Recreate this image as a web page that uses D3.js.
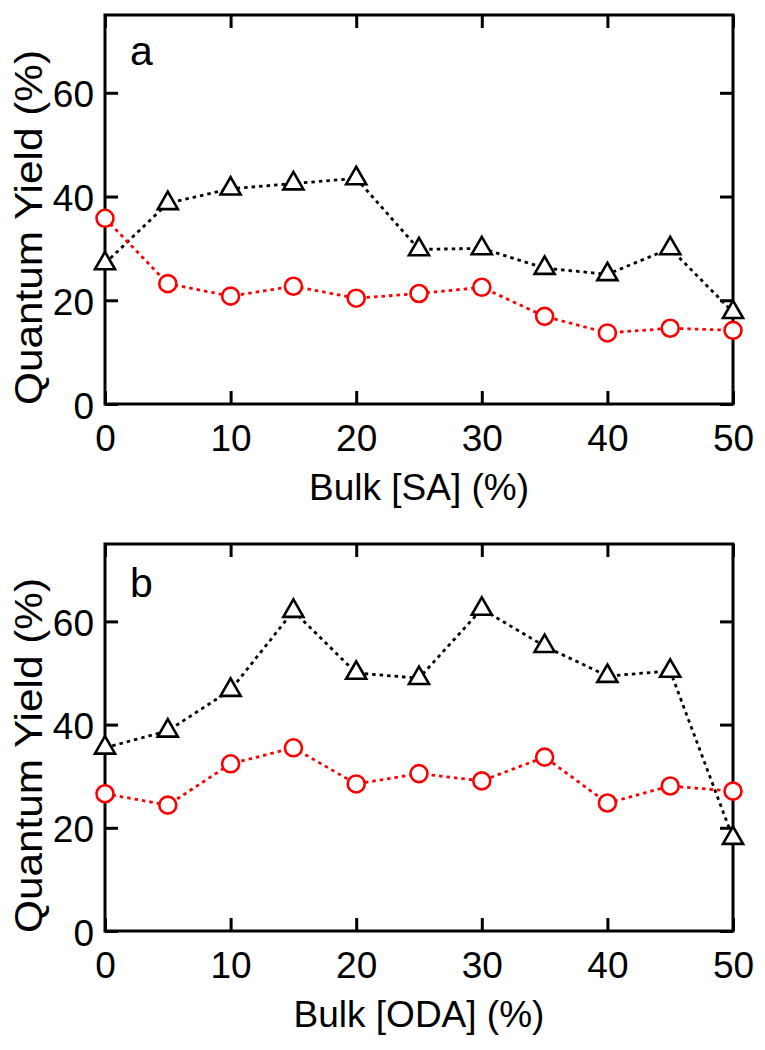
<!DOCTYPE html>
<html>
<head>
<meta charset="utf-8">
<script src="https://cdn.jsdelivr.net/npm/d3@7"></script>
<style>
  body { margin: 0; background: #fff; }
  text { font-family: "Liberation Sans", Arial, Helvetica, sans-serif; fill: #000; }
</style>
</head>
<body>
<div id="chart"></div>
<script>
// data
let bulkPct = [0, 5, 10, 15, 20, 25, 30, 35, 40, 45, 50];

// panel a, SA
let saTriangle = [27.1, 38.7, 41.5, 42.5, 43.5, 29.8, 30.0, 26.2, 25.0, 30.0, 17.7];
let saCircle = [35.8, 23.2, 20.8, 22.7, 20.4, 21.3, 22.5, 16.9, 13.7, 14.6, 14.2];

// panel b, ODA
let odaTriangle = [35.5, 38.8, 46.7, 62.0, 50.0, 49.0, 62.4, 55.2, 49.4, 50.4, 18.0];
let odaCircle = [26.6, 24.4, 32.4, 35.5, 28.5, 30.5, 29.1, 33.7, 24.8, 28.1, 27.1];

let xTicks = [0, 10, 20, 30, 40, 50];
let yTicks = [0, 20, 40, 60];
let xDomain = [0, 50];
let yDomain = [0, 75];

let svgWidth = 765;
let svgHeight = 1050;

var svg = d3.select("#chart")
    .append("svg")
    .attr("width", svgWidth)
    .attr("height", svgHeight);

// one panel = frame + inward ticks + two dotted series
function drawPanel(opts) {
    let left = 105, right = 733;
    let top = opts.top, bottom = opts.bottom;
    let width = right - left;
    let height = bottom - top;

    var g = svg.append("g")
        .attr("transform", `translate(${left}, ${top})`);

    var x = d3.scaleLinear().domain(xDomain).range([0, width]);
    var y = d3.scaleLinear().domain(yDomain).range([height, 0]);

    // bottom axis with labels
    var bottomAxis = g.append("g")
        .attr("transform", `translate(0, ${height})`)
        .call(d3.axisBottom(x).tickValues(xTicks).tickSizeInner(-13).tickSizeOuter(0));
    bottomAxis.selectAll("text")
        .attr("y", 47)
        .attr("dy", null)
        .attr("font-size", "37px");

    // top ticks
    g.append("g")
        .call(d3.axisTop(x).tickValues(xTicks).tickSizeInner(-13).tickSizeOuter(0).tickFormat(""));

    // left axis with labels
    var leftAxis = g.append("g")
        .call(d3.axisLeft(y).tickValues(yTicks).tickSizeInner(-13).tickSizeOuter(0));
    leftAxis.selectAll("text")
        .attr("x", -11)
        .attr("dy", null)
        .attr("y", 14)
        .attr("font-size", "37px");

    // right ticks
    g.append("g")
        .attr("transform", `translate(${width}, 0)`)
        .call(d3.axisRight(y).tickValues(yTicks).tickSizeInner(-13).tickSizeOuter(0).tickFormat(""));

    g.selectAll(".domain").remove();
    g.selectAll(".tick line")
        .attr("stroke", "#000")
        .attr("stroke-width", 3);
    g.selectAll(".tick text")
        .attr("font-family", "Liberation Sans, Arial, Helvetica, sans-serif")
        .attr("fill", "#000");

    // frame
    g.append("rect")
        .attr("x", 0)
        .attr("y", 0)
        .attr("width", width)
        .attr("height", height)
        .attr("fill", "none")
        .attr("stroke", "#000")
        .attr("stroke-width", 3);

    // axis titles
    g.append("text")
        .attr("x", width / 2)
        .attr("y", height + 96)
        .attr("text-anchor", "middle")
        .attr("font-size", "37px")
        .text(opts.xLabel);

    g.append("text")
        .attr("transform", `translate(${42 - left}, ${height / 2 + 18}) rotate(-90)`)
        .attr("text-anchor", "middle")
        .attr("font-size", "39px")
        .attr("textLength", 355)
        .attr("lengthAdjust", "spacingAndGlyphs")
        .text("Quantum Yield (%)");

    // panel letter
    g.append("text")
        .attr("x", 25)
        .attr("y", opts.letterY)
        .attr("font-size", "41px")
        .text(opts.letter);

    var line = d3.line()
        .x((d, i) => x(bulkPct[i]))
        .y(d => y(d));

    // dotted lines
    g.append("path")
        .datum(opts.triangle)
        .attr("d", line)
        .attr("fill", "none")
        .attr("stroke", "#000")
        .attr("stroke-width", 2.8)
        .attr("stroke-dasharray", "3.5,4");

    g.append("path")
        .datum(opts.circle)
        .attr("d", line)
        .attr("fill", "none")
        .attr("stroke", "#ff0000")
        .attr("stroke-width", 2.8)
        .attr("stroke-dasharray", "3.5,4");

    // markers
    g.selectAll(null)
        .data(opts.circle)
        .enter()
        .append("circle")
        .attr("cx", (d, i) => x(bulkPct[i]))
        .attr("cy", d => y(d))
        .attr("r", 8.5)
        .attr("fill", "#fff")
        .attr("stroke", "#ff0000")
        .attr("stroke-width", 2.6);

    var tri = d3.symbol().type(d3.symbolTriangle).size(175);
    g.selectAll(null)
        .data(opts.triangle)
        .enter()
        .append("path")
        .attr("d", tri)
        .attr("transform", (d, i) => `translate(${x(bulkPct[i])}, ${y(d)})`)
        .attr("fill", "#fff")
        .attr("stroke", "#000")
        .attr("stroke-width", 2.6);
}

drawPanel({
    top: 15, bottom: 404,
    letter: "a", letterY: 50,
    xLabel: "Bulk [SA] (%)",
    triangle: saTriangle, circle: saCircle
});

drawPanel({
    top: 544, bottom: 931,
    letter: "b", letterY: 53,
    xLabel: "Bulk [ODA] (%)",
    triangle: odaTriangle, circle: odaCircle
});
</script>
</body>
</html>
